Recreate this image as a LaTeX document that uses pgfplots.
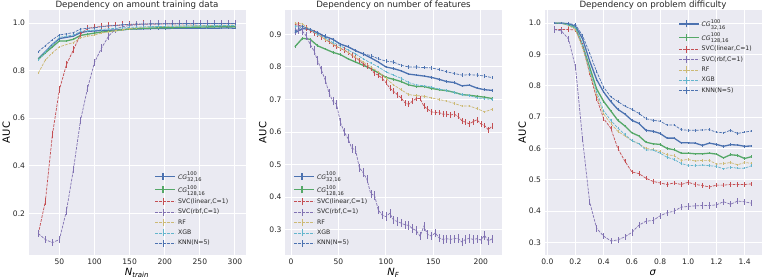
\documentclass[border=0pt]{standalone}
\usepackage{fontspec}
\setmainfont{DejaVu Sans}
\usepackage{pgfplots}
\pgfplotsset{compat=1.18}
\definecolor{sBlue}{HTML}{4C72B0}
\definecolor{sGreen}{HTML}{55A868}
\definecolor{sRed}{HTML}{C44E52}
\definecolor{sPurple}{HTML}{8172B2}
\definecolor{sYellow}{HTML}{CCB974}
\definecolor{sCyan}{HTML}{64B5CD}
\definecolor{bgc}{HTML}{EAEAF2}
\definecolor{txt}{HTML}{262626}
\newcommand\sm[1]{\mbox{\fontsize{5.1}{6}\selectfont #1}}
\newcommand\CG[2]{\textit{CG}\rlap{\raisebox{3.8bp}{\sm{#1}}}\raisebox{-2.4bp}{\sm{#2}}}
\pgfplotsset{
  every axis title shift=0pt,
  sbase/.style={
    scale only axis, width=217bp, height=245bp, anchor=south west,
    axis background/.style={fill=bgc},
    axis line style={draw=none},
    major tick length=0pt, tick style={draw=none},
    grid=major, major grid style={white, line width=1bp},
    tick label style={font=\fontsize{7.6}{9}\selectfont, text=txt},
    /pgf/number format/assume math mode=true,
    label style={font=\fontsize{8.7}{10}\selectfont, text=txt},
    title style={font=\fontsize{8.7}{10}\selectfont, text=txt, at={(0.5,1)}, anchor=base, yshift=2.3bp},
    every axis y label/.style={at={(axis description cs:-0.102,0.5)}, rotate=90, anchor=center},
    every axis x label/.style={at={(axis description cs:0.5,0)}, anchor=center, yshift=-18bp},
    legend style={draw=none, fill=none, font=\fontsize{6.2}{7.4}\selectfont, text=txt,
      cells={anchor=west}, row sep=0.3bp, inner sep=1bp},
    legend image code/.code={
      \path (0bp,0bp) -- (20bp,0bp);
      \draw[#1] (0bp,0bp) -- (15bp,0bp);
      \draw[#1,solid] (7.5bp,-3.5bp) -- (7.5bp,3.5bp);
    },
  },
  cgA/.style={color=sBlue, line width=1.3bp, solid, mark=none},
  cgB/.style={color=sGreen, line width=1.3bp, solid, mark=none},
  dl/.style={color=#1, line width=0.7bp, dash pattern=on 2.8bp off 1.2bp, mark=none},
  eb/.style={error bars/.cd, y dir=both, y fixed=#1, error mark=none, error bar style={solid}},
}
\begin{document}
\begin{tikzpicture}
\useasboundingbox (0,0) rectangle (763bp,278bp);
% ---------------- Panel 1
\begin{axis}[sbase, at={(28.5bp,23bp)},
  xmin=6, xmax=315, ymin=0.025, ymax=1.055,
  xtick={50,100,150,200,250,300}, ytick={0.2,0.4,0.6,0.8,1.0},
  yticklabel style={/pgf/number format/.cd, fixed, fixed zerofill, precision=1},
  title={Dependency on amount training data},
  xlabel={\textit{N}\textsubscript{\textit{train}}}, ylabel={AUC},
  legend style={at={(axis description cs:0.935,0.022)}, anchor=south east}]
\addplot[cgA, eb=0.004] coordinates {(20,.85) (30,.88) (40,.91) (50,.935) (60,.94) (70,.945) (80,.96) (90,.965) (100,.967) (110,.968) (120,.97) (130,.971) (140,.972) (150,.975) (160,.975) (170,.976) (180,.977) (190,.977) (200,.977) (210,.978) (220,.978) (230,.978) (240,.978) (250,.978) (260,.979) (270,.978) (280,.979) (290,.98) (300,.978)};
\addplot[cgB, eb=0.004] coordinates {(20,.848) (30,.875) (40,.9) (50,.925) (60,.925) (70,.932) (80,.948) (90,.953) (100,.958) (110,.962) (120,.965) (130,.968) (140,.972) (150,.975) (160,.977) (170,.978) (180,.979) (190,.98) (200,.98) (210,.981) (220,.982) (230,.982) (240,.983) (250,.983) (260,.984) (270,.984) (280,.985) (290,.985) (300,.985)};
\addplot[dl=sRed, eb=0.015] coordinates {(20,.115) (30,.25) (40,.53) (50,.72) (60,.825) (70,.888) (80,.952) (90,.978) (100,.982) (110,.986) (120,.988) (130,.99) (140,.992) (150,.995) (160,.995) (170,.996) (180,.996) (190,.996) (200,.997) (210,.997) (220,.997) (230,.997) (240,.997) (250,.998) (260,.998) (270,.998) (280,.998) (290,.998) (300,.998)};
\addplot[dl=sPurple, eb=0.015] coordinates {(20,.115) (30,.09) (40,.077) (50,.09) (60,.21) (70,.385) (80,.59) (90,.725) (100,.835) (110,.895) (120,.945) (130,.975) (140,.985) (150,.99) (160,.993) (170,.995) (180,.996) (190,.996) (200,.997) (210,.997) (220,.997) (230,.997) (240,.997) (250,.998) (260,.998) (270,.998) (280,.998) (290,.998) (300,.998)};
\addplot[dl=sYellow, eb=0.004] coordinates {(20,.79) (30,.845) (40,.875) (50,.9) (60,.91) (70,.918) (80,.938) (90,.945) (100,.95) (110,.958) (120,.963) (130,.968) (140,.972) (150,.977) (160,.98) (170,.982) (180,.984) (190,.985) (200,.986) (210,.987) (220,.988) (230,.988) (240,.989) (250,.989) (260,.99) (270,.99) (280,.991) (290,.991) (300,.992)};
\addplot[dl=sCyan, eb=0.004] coordinates {(20,.845) (30,.878) (40,.91) (50,.94) (60,.945) (70,.95) (80,.965) (90,.968) (100,.97) (110,.973) (120,.976) (130,.978) (140,.98) (150,.982) (160,.983) (170,.984) (180,.985) (190,.986) (200,.986) (210,.987) (220,.987) (230,.988) (240,.988) (250,.989) (260,.989) (270,.989) (280,.99) (290,.99) (300,.99)};
\addplot[dl=sBlue, eb=0.004] coordinates {(20,.88) (30,.905) (40,.93) (50,.95) (60,.955) (70,.96) (80,.975) (90,.978) (100,.98) (110,.985) (120,.988) (130,.99) (140,.993) (150,.995) (160,.996) (170,.996) (180,.997) (190,.997) (200,.997) (210,.997) (220,.998) (230,.998) (240,.998) (250,.998) (260,.998) (270,.998) (280,.998) (290,.998) (300,.998)};
\legend{\CG{100}{32,16}, \CG{100}{128,16}, {SVC(linear,C=1)}, {SVC(rbf,C=1)}, RF, XGB, KNN(N=5)}
\end{axis}
% ---------------- Panel 2
\begin{axis}[sbase, at={(285bp,23bp)},
  xmin=-6.4, xmax=222.4, ymin=0.222, ymax=0.975,
  xtick={0,50,100,150,200}, ytick={0.3,0.4,0.5,0.6,0.7,0.8,0.9},
  yticklabel style={/pgf/number format/.cd, fixed, fixed zerofill, precision=1},
  title={Dependency on number of features},
  xlabel={\textit{N}\textsubscript{\textit{F}}}, ylabel={AUC},
  legend style={at={(axis description cs:0.035,0.022)}, anchor=south west}]
\addplot[cgA, eb=0.004] coordinates {(4,.905) (12,.918) (20,.915) (28,.905) (36,.893) (44,.885) (52,.87) (60,.862) (68,.85) (76,.84) (84,.828) (92,.815) (100,.80) (108,.795) (116,.788) (124,.778) (132,.775) (140,.772) (148,.768) (156,.762) (164,.755) (172,.752) (180,.742) (188,.744) (196,.735) (204,.73) (212,.728)};
\addplot[cgB, eb=0.004] coordinates {(4,.862) (12,.888) (20,.885) (28,.865) (36,.855) (44,.845) (52,.838) (60,.825) (68,.815) (76,.805) (84,.795) (92,.782) (100,.768) (108,.762) (116,.755) (124,.745) (132,.74) (140,.74) (148,.734) (156,.73) (164,.727) (172,.722) (180,.715) (188,.713) (196,.71) (204,.707) (212,.703)};
\addplot[dl=sRed, eb=0.009] coordinates {(4,.93) (8,.928) (12,.925) (16,.92) (20,.912) (24,.905) (28,.9) (32,.893) (36,.885) (40,.878) (44,.87) (48,.863) (52,.857) (56,.852) (60,.845) (64,.836) (68,.828) (72,.82) (76,.81) (80,.803) (84,.795) (88,.78) (92,.775) (96,.765) (100,.752) (104,.735) (108,.725) (112,.715) (116,.705) (120,.69) (124,.685) (128,.695) (132,.703) (136,.703) (140,.68) (144,.67) (148,.662) (152,.66) (156,.66) (160,.655) (164,.655) (168,.652) (172,.655) (176,.648) (180,.635) (184,.63) (188,.625) (192,.632) (196,.638) (200,.625) (204,.62) (208,.607) (212,.618)};
\addplot[dl=sPurple, eb=0.013] coordinates {(4,.91) (8,.915) (12,.91) (16,.895) (20,.87) (24,.85) (28,.82) (32,.79) (36,.76) (40,.72) (44,.695) (48,.685) (52,.63) (56,.6) (60,.58) (64,.55) (68,.545) (72,.49) (76,.475) (80,.455) (84,.41) (88,.405) (92,.36) (96,.345) (100,.34) (104,.35) (108,.33) (112,.325) (116,.32) (120,.315) (124,.313) (128,.303) (132,.297) (136,.28) (140,.31) (144,.285) (148,.28) (152,.29) (156,.275) (160,.27) (164,.272) (168,.27) (172,.272) (176,.273) (180,.262) (184,.27) (188,.273) (192,.27) (196,.272) (200,.268) (204,.282) (208,.265) (212,.272)};
\addplot[dl=sYellow, eb=0.004] coordinates {(4,.935) (12,.932) (20,.915) (28,.9) (36,.885) (44,.87) (52,.857) (60,.845) (68,.83) (76,.815) (84,.8) (92,.785) (100,.765) (108,.745) (116,.73) (124,.715) (132,.712) (140,.71) (148,.705) (156,.7) (164,.695) (172,.688) (180,.68) (188,.68) (196,.672) (204,.662) (212,.67)};
\addplot[dl=sCyan, eb=0.004] coordinates {(4,.925) (12,.925) (20,.915) (28,.9) (36,.89) (44,.875) (52,.865) (60,.852) (68,.84) (76,.825) (84,.812) (92,.8) (100,.785) (108,.775) (116,.765) (124,.752) (132,.745) (140,.742) (148,.738) (156,.732) (164,.728) (172,.722) (180,.715) (188,.712) (196,.705) (204,.702) (212,.7)};
\addplot[dl=sBlue, eb=0.005] coordinates {(4,.91) (12,.925) (20,.915) (28,.905) (36,.895) (44,.885) (52,.87) (60,.862) (68,.85) (76,.84) (84,.835) (92,.825) (100,.818) (108,.815) (116,.805) (124,.80) (132,.80) (140,.798) (148,.797) (156,.792) (164,.785) (172,.78) (180,.775) (188,.776) (196,.775) (204,.772) (212,.767)};
\legend{\CG{100}{32,16}, \CG{100}{128,16}, {SVC(linear,C=1)}, {SVC(rbf,C=1)}, RF, XGB, KNN(N=5)}
\end{axis}
% ---------------- Panel 3
\begin{axis}[sbase, at={(544.5bp,23bp)},
  xmin=-0.02, xmax=1.52, ymin=0.26, ymax=1.042,
  xtick={0,0.2,0.4,0.6,0.8,1.0,1.2,1.4}, ytick={0.3,0.4,0.5,0.6,0.7,0.8,0.9,1.0},
  xticklabel style={/pgf/number format/.cd, fixed, fixed zerofill, precision=1},
  yticklabel style={/pgf/number format/.cd, fixed, fixed zerofill, precision=1},
  title={Dependency on problem difficulty},
  xlabel={\textit{σ}}, ylabel={AUC},
  legend style={at={(axis description cs:0.97,0.975)}, anchor=north east}]
\addplot[cgA, eb=0.004] coordinates {(0.05,1.0) (0.1,1.0) (0.15,.998) (0.2,.99) (0.25,.95) (0.3,.88) (0.35,.82) (0.4,.78) (0.45,.75) (0.5,.725) (0.55,.71) (0.6,.69) (0.65,.68) (0.7,.658) (0.75,.655) (0.8,.648) (0.85,.633) (0.9,.633) (0.95,.618) (1.0,.618) (1.05,.617) (1.1,.61) (1.15,.617) (1.2,.613) (1.25,.607) (1.3,.612) (1.35,.611) (1.4,.607) (1.45,.608)};
\addplot[cgB, eb=0.004] coordinates {(0.05,1.0) (0.1,1.0) (0.15,.995) (0.2,.985) (0.25,.93) (0.3,.86) (0.35,.79) (0.4,.75) (0.45,.72) (0.5,.69) (0.55,.672) (0.6,.65) (0.65,.64) (0.7,.62) (0.75,.615) (0.8,.613) (0.85,.6) (0.9,.596) (0.95,.585) (1.0,.585) (1.05,.583) (1.1,.583) (1.15,.585) (1.2,.582) (1.25,.57) (1.3,.58) (1.35,.578) (1.4,.568) (1.45,.574)};
\addplot[dl=sRed, eb=0.007] coordinates {(0.05,.98) (0.1,.98) (0.15,.98) (0.2,.978) (0.25,.93) (0.3,.84) (0.35,.76) (0.4,.695) (0.45,.665) (0.5,.6) (0.55,.56) (0.6,.525) (0.65,.52) (0.7,.505) (0.75,.495) (0.8,.49) (0.85,.485) (0.9,.49) (0.95,.485) (1.0,.492) (1.05,.485) (1.1,.482) (1.15,.477) (1.2,.483) (1.25,.483) (1.3,.485) (1.35,.485) (1.4,.485) (1.45,.487)};
\addplot[dl=sPurple, eb=0.01] coordinates {(0.05,.98) (0.1,.975) (0.15,.95) (0.2,.86) (0.25,.63) (0.3,.43) (0.35,.345) (0.4,.32) (0.45,.305) (0.5,.308) (0.55,.318) (0.6,.332) (0.65,.355) (0.7,.368) (0.75,.37) (0.8,.385) (0.85,.395) (0.9,.40) (0.95,.413) (1.0,.415) (1.05,.417) (1.1,.418) (1.15,.418) (1.2,.42) (1.25,.43) (1.3,.422) (1.35,.432) (1.4,.43) (1.45,.425)};
\addplot[dl=sYellow, eb=0.004] coordinates {(0.05,1.0) (0.1,1.0) (0.15,.993) (0.2,.98) (0.25,.92) (0.3,.845) (0.35,.77) (0.4,.71) (0.45,.68) (0.5,.655) (0.55,.64) (0.6,.625) (0.65,.615) (0.7,.6) (0.75,.597) (0.8,.59) (0.85,.58) (0.9,.577) (0.95,.562) (1.0,.565) (1.05,.56) (1.1,.562) (1.15,.562) (1.2,.55) (1.25,.552) (1.3,.555) (1.35,.548) (1.4,.555) (1.45,.553)};
\addplot[dl=sCyan, eb=0.004] coordinates {(0.05,1.0) (0.1,1.0) (0.15,.995) (0.2,.985) (0.25,.93) (0.3,.85) (0.35,.78) (0.4,.72) (0.45,.69) (0.5,.665) (0.55,.645) (0.6,.625) (0.65,.615) (0.7,.595) (0.75,.595) (0.8,.585) (0.85,.572) (0.9,.565) (0.95,.552) (1.0,.546) (1.05,.545) (1.1,.547) (1.15,.545) (1.2,.543) (1.25,.535) (1.3,.54) (1.35,.537) (1.4,.537) (1.45,.545)};
\addplot[dl=sBlue, eb=0.004] coordinates {(0.05,1.0) (0.1,1.0) (0.15,.999) (0.2,.995) (0.25,.96) (0.3,.905) (0.35,.845) (0.4,.795) (0.45,.765) (0.5,.75) (0.55,.735) (0.6,.725) (0.65,.712) (0.7,.695) (0.75,.69) (0.8,.687) (0.85,.675) (0.9,.675) (0.95,.66) (1.0,.658) (1.05,.658) (1.1,.659) (1.15,.66) (1.2,.652) (1.25,.65) (1.3,.658) (1.35,.648) (1.4,.652) (1.45,.656)};
\legend{\CG{100}{32,16}, \CG{100}{128,16}, {SVC(linear,C=1)}, {SVC(rbf,C=1)}, RF, XGB, KNN(N=5)}
\end{axis}
\end{tikzpicture}
\end{document}
